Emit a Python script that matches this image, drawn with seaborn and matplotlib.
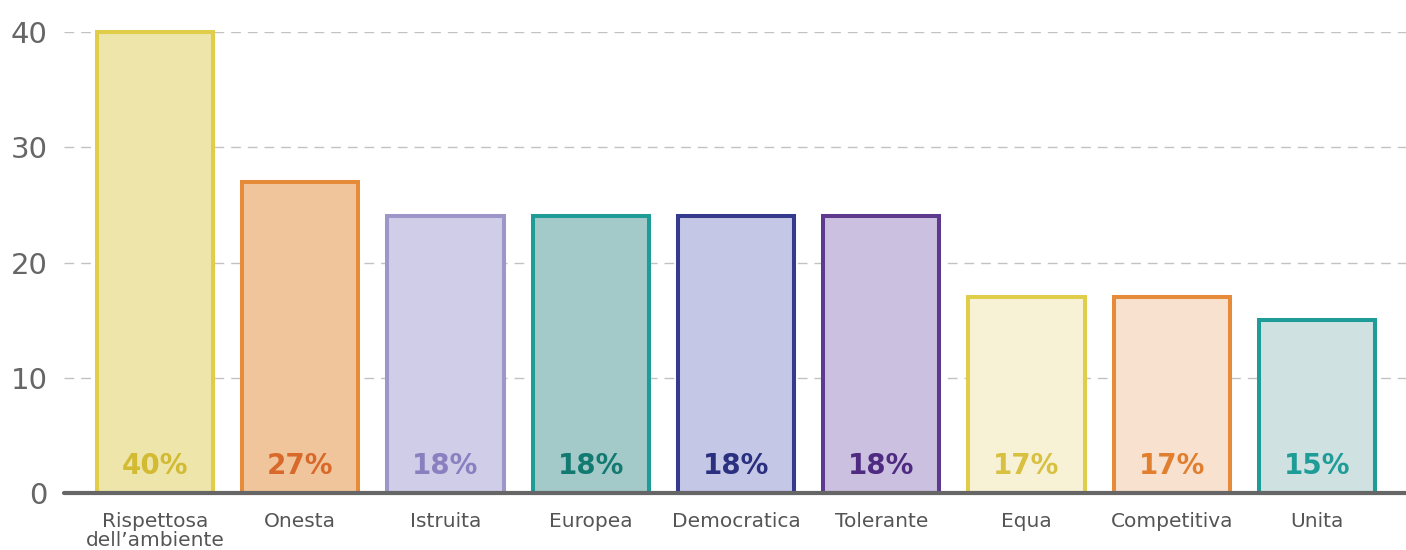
import matplotlib
matplotlib.use("Agg")
import matplotlib.pyplot as plt
import pandas as pd
import seaborn as sns

# data
categories = ["Rispettosa\ndell\u2019ambiente", "Onesta", "Istruita", "Europea", "Democratica",
              "Tolerante", "Equa", "Competitiva", "Unita"]
bar_values = [40, 27, 24, 24, 24, 24, 17, 17, 15]
pct_labels = ["40%", "27%", "18%", "18%", "18%", "18%", "17%", "17%", "15%"]
yticks = [0, 10, 20, 30, 40]

fill_colors = ['#EEE5AA', '#F0C59B', '#D0CDE8', '#A4C9C9', '#C4C7E5',
               '#CBC0DF', '#F7F2D6', '#F9E1CF', '#CFE1E1']
edge_colors = ['#E0CD4A', '#E58B3A', '#9D97C9', '#1E9C97', '#353A8C',
               '#5E3A8E', '#E0CD4A', '#E58B3A', '#1E9C97']
text_colors = ['#D2BA32', '#D9692A', '#8A80C0', '#137A72', '#2A2F80',
               '#4E2A80', '#D8C040', '#E07F30', '#1E9C97']

sns.set_style("white")
plt.rcParams['font.family'] = ['DejaVu Sans']

data = pd.DataFrame({'cat': categories, 'val': bar_values})

fig = plt.figure(figsize=(14.06, 5.5), dpi=100)
ax = fig.add_axes([64 / 1406, 57 / 550, 1342 / 1406, 461 / 550])

sns.barplot(data=data, x='cat', y='val', hue='cat', palette=fill_colors,
            saturation=1, width=0.8, legend=False, ax=ax, zorder=2)

for patch, ec in zip(ax.patches, edge_colors):
    patch.set_edgecolor(ec)
    patch.set_linewidth(2.9)
    patch.set_clip_on(False)

for i, (lab, tc) in enumerate(zip(pct_labels, text_colors)):
    ax.text(i, 2.3, lab, ha='center', va='center', color=tc,
            fontsize=20, fontweight='bold')

ax.set_xlim(-0.627, 8.613)
ax.set_ylim(0, 40)
ax.set_yticks(yticks)
ax.set_xlabel("")
ax.set_ylabel("")

ax.yaxis.grid(True, color='#c2c2c2', linestyle=(0, (7, 5)), linewidth=1.0)
ax.set_axisbelow(True)

for s in ['top', 'right', 'left']:
    ax.spines[s].set_visible(False)
ax.spines['bottom'].set_color('#666666')
ax.spines['bottom'].set_linewidth(3)
ax.spines['bottom'].set_capstyle('round')
ax.spines['bottom'].set_zorder(5)

ax.tick_params(axis='y', length=0, pad=12, labelsize=21, labelcolor='#666666')
ax.tick_params(axis='x', length=0, pad=14, labelsize=14.5, labelcolor='#555555')
for t in ax.get_xticklabels():
    t.set_linespacing(0.95)
    t.set_va('top')

fig.savefig("out.png", dpi=100)
